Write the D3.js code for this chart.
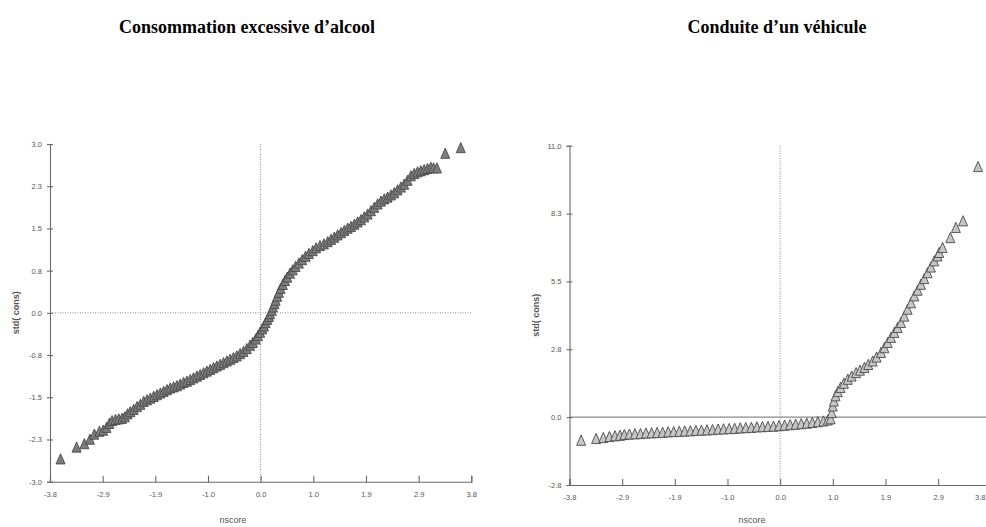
<!DOCTYPE html>
<html>
<head>
<meta charset="utf-8">
<script src="https://cdn.jsdelivr.net/npm/d3@7"></script>
<style>
  body { margin: 0; background: #fff; }
  .axis path, .axis line { stroke: #6a6a6a; stroke-width: 1.1; }
  .axis text { font-family: "Liberation Sans Narrow", "Liberation Sans", sans-serif; font-size: 7.5px; fill: #555; }
  .title { font-family: "Liberation Serif", "Times New Roman", serif; font-weight: bold; font-size: 18px; fill: #000; }
  .lab { font-family: "Liberation Sans", sans-serif; font-size: 9px; fill: #555; }
</style>
</head>
<body>
<svg id="chart" width="986" height="527"></svg>
<script>
// panel titles
const titles = ["Consommation excessive d’alcool", "Conduite d’un véhicule"];

// shared x ticks (nscore)
const xTicks = [-3.8, -2.85, -1.9, -0.95, 0, 0.95, 1.9, 2.85, 3.8];
const xTickLabels = ["-3.8", "-2.9", "-1.9", "-1.0", "0.0", "1.0", "1.9", "2.9", "3.8"];

// left panel: alcohol
const alcTicks = [-3, -2.25, -1.5, -0.75, 0, 0.75, 1.5, 2.25, 3];
const alcTickLabels = ["-3.0", "-2.3", "-1.5", "-0.8", "0.0", "0.8", "1.5", "2.3", "3.0"];
const alcNscore = [
  -3.61, -3.32, -3.18, -3.08, -3.00, -2.91, -2.84, -2.78, -2.73, -2.68,
  -2.62, -2.56, -2.50, -2.45, -2.40, -2.35, -2.29, -2.23, -2.17, -2.11,
  -2.05, -1.99, -1.93, -1.87, -1.81, -1.75, -1.69, -1.63, -1.57, -1.51,
  -1.45, -1.39, -1.33, -1.27, -1.21, -1.15, -1.09, -1.03, -0.97, -0.91,
  -0.85, -0.79, -0.73, -0.67, -0.61, -0.55, -0.49, -0.43, -0.37, -0.31,
  -0.25, -0.19, -0.14, -0.09, -0.05, -0.01, 0.03, 0.06, 0.09, 0.12,
  0.15, 0.17, 0.20, 0.22, 0.25, 0.27, 0.30, 0.33, 0.36, 0.40,
  0.44, 0.48, 0.53, 0.58, 0.63, 0.69, 0.75, 0.81, 0.87, 0.94,
  1.00, 1.07, 1.14, 1.21, 1.27, 1.33, 1.39, 1.45, 1.51, 1.57,
  1.63, 1.69, 1.75, 1.81, 1.87, 1.93, 1.99, 2.05, 2.11, 2.17,
  2.23, 2.29, 2.35, 2.41, 2.47, 2.53, 2.59, 2.65, 2.71, 2.77,
  2.83, 2.89, 2.95, 3.01, 3.07, 3.12, 3.18, 3.33, 3.61
];
const alcStd = [
  -2.61, -2.40, -2.34, -2.26, -2.17, -2.12, -2.10, -2.05, -1.98, -1.93,
  -1.91, -1.90, -1.89, -1.86, -1.81, -1.77, -1.73, -1.68, -1.64, -1.59,
  -1.56, -1.53, -1.50, -1.47, -1.44, -1.41, -1.38, -1.35, -1.33, -1.31,
  -1.28, -1.25, -1.23, -1.20, -1.17, -1.14, -1.11, -1.08, -1.05, -1.02,
  -0.99, -0.96, -0.93, -0.90, -0.87, -0.84, -0.81, -0.78, -0.74, -0.70,
  -0.65, -0.59, -0.54, -0.48, -0.42, -0.36, -0.30, -0.25, -0.19, -0.13,
  -0.08, -0.03, 0.03, 0.09, 0.15, 0.21, 0.28, 0.35, 0.42, 0.49,
  0.56, 0.62, 0.69, 0.75, 0.81, 0.87, 0.93, 0.99, 1.04, 1.09,
  1.14, 1.18, 1.21, 1.25, 1.29, 1.33, 1.37, 1.41, 1.45, 1.49,
  1.52, 1.56, 1.60, 1.64, 1.69, 1.74, 1.80, 1.86, 1.92, 1.97,
  2.01, 2.04, 2.08, 2.12, 2.17, 2.22, 2.27, 2.34, 2.42, 2.46,
  2.49, 2.51, 2.53, 2.55, 2.57, 2.56, 2.56, 2.82, 2.92
];

// right panel: driving
const drvTicks = [-2.75, 0, 2.75, 5.5, 8.25, 11];
const drvTickLabels = ["-2.8", "0.0", "2.8", "5.5", "8.3", "11.0"];
const drvNscore = [
  -3.59, -3.32, -3.19, -3.08, -2.98, -2.89, -2.81, -2.72, -2.62, -2.52,
  -2.42, -2.32, -2.22, -2.12, -2.02, -1.92, -1.82, -1.72, -1.62, -1.52,
  -1.42, -1.32, -1.22, -1.12, -1.02, -0.92, -0.82, -0.72, -0.62, -0.52,
  -0.42, -0.32, -0.22, -0.12, -0.02, 0.08, 0.18, 0.28, 0.38, 0.48,
  0.58, 0.68, 0.78, 0.86, 0.91, 0.93, 0.95, 0.97, 1.00, 1.04,
  1.09, 1.15, 1.22, 1.29, 1.37, 1.44, 1.52, 1.59, 1.67, 1.74,
  1.82, 1.88, 1.94, 2.00, 2.06, 2.12, 2.18, 2.24, 2.30, 2.36,
  2.42, 2.48, 2.54, 2.60, 2.66, 2.72, 2.78, 2.84, 2.87, 2.93,
  3.07, 3.17, 3.30, 3.57
];
const drvStd = [
  -0.97, -0.90, -0.86, -0.82, -0.79, -0.77, -0.74, -0.72, -0.71, -0.70,
  -0.68, -0.67, -0.66, -0.65, -0.63, -0.62, -0.61, -0.60, -0.59, -0.57,
  -0.56, -0.55, -0.54, -0.52, -0.51, -0.50, -0.49, -0.47, -0.46, -0.45,
  -0.43, -0.42, -0.41, -0.40, -0.38, -0.36, -0.34, -0.32, -0.30, -0.28,
  -0.25, -0.22, -0.19, -0.15, -0.10, 0.15, 0.42, 0.62, 0.83, 1.00,
  1.17, 1.34, 1.50, 1.63, 1.77, 1.87, 1.98, 2.10, 2.24, 2.40,
  2.59, 2.78, 2.99, 3.20, 3.40, 3.60, 3.80, 4.06, 4.34, 4.60,
  4.88, 5.11, 5.35, 5.58, 5.82, 6.05, 6.30, 6.50, 6.64, 6.84,
  7.24, 7.65, 7.92, 10.12
];

const svg = d3.select("#chart");
const tri = "M0,-6L4.5,4.2L-4.5,4.2Z";

function drawPanel(p) {
  const x = d3.scaleLinear().domain([-3.8, 3.8]).range([p.x0, p.x1]);
  const y = d3.scaleLinear().domain(p.yDomain).range([p.y0, p.y1]);
  const g = svg.append("g");

  svg.append("text").attr("class", "title")
    .attr("x", p.titleX).attr("y", 33).attr("text-anchor", "middle")
    .text(p.title);

  // reference lines at zero
  g.append("line")
    .attr("x1", x(0)).attr("x2", x(0)).attr("y1", p.y1).attr("y2", p.y0)
    .attr("stroke", "#8a8a8a").attr("stroke-width", 1).attr("stroke-dasharray", "1,1.5");
  g.append("line")
    .attr("x1", p.x0).attr("x2", p.hEnd).attr("y1", y(0)).attr("y2", y(0))
    .attr("stroke", "#8a8a8a").attr("stroke-width", p.hSolid ? 1.2 : 1)
    .attr("stroke-dasharray", p.hSolid ? null : "1,1.5");

  const xa = g.append("g").attr("class", "axis")
    .attr("transform", `translate(0,${p.y0})`)
    .call(d3.axisBottom(x).tickValues(xTicks)
      .tickFormat((d, i) => xTickLabels[i]).tickSizeOuter(0).tickSize(-6).tickPadding(10));
  xa.selectAll(".tick line").attr("y2", -6).attr("y1", 1);
  // keep a label that would fall past the page edge inside it
  xa.selectAll(".tick text")
    .filter(d => x(d) > 975)
    .attr("text-anchor", "end").attr("x", d => 985 - x(d));

  const ya = g.append("g").attr("class", "axis")
    .attr("transform", `translate(${p.x0},0)`)
    .call(d3.axisLeft(y).tickValues(p.yTicks)
      .tickFormat((d, i) => p.yLabels[i]).tickSizeOuter(0).tickSize(3).tickPadding(5));
  ya.selectAll(".tick line").attr("x1", 3).attr("x2", -3);

  g.append("text").attr("class", "lab")
    .attr("transform", `translate(${p.yLabX},${(p.y0 + p.y1) / 2}) rotate(-90)`)
    .attr("text-anchor", "middle").attr("font-weight", "bold")
    .attr("font-size", 9.5).text("std( cons)");
  g.append("text").attr("class", "lab")
    .attr("x", p.xLabX).attr("y", 523).attr("text-anchor", "middle")
    .text("nscore");

  g.append("g").selectAll("path")
    .data(p.nscore.map((d, i) => [d, p.std[i]]))
    .join("path")
    .attr("d", tri)
    .attr("transform", d => `translate(${x(d[0])},${y(d[1])})`)
    .attr("fill", p.fill)
    .attr("stroke", p.stroke)
    .attr("stroke-width", 0.9);
}

drawPanel({
  title: titles[0], titleX: 247,
  x0: 50, x1: 471.3, y0: 481.7, y1: 144, hEnd: 471.3, hSolid: false,
  yDomain: [-3, 3], yTicks: alcTicks, yLabels: alcTickLabels,
  nscore: alcNscore, std: alcStd,
  yLabX: 19, xLabX: 233,
  fill: "#7d7d7d", stroke: "#4a4a4a"
});

drawPanel({
  title: titles[1], titleX: 777,
  x0: 569.5, x1: 990.8, y0: 485, y1: 145.7, hEnd: 986, hSolid: true,
  yDomain: [-2.75, 11], yTicks: drvTicks, yLabels: drvTickLabels,
  nscore: drvNscore, std: drvStd,
  yLabX: 539, xLabX: 752,
  fill: "#c6c6c6", stroke: "#4a4a4a"
});
</script>
</body>
</html>
